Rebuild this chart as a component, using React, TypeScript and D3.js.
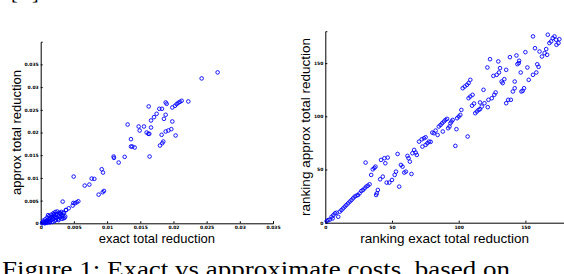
import React, { useEffect, useRef } from "react";
import * as d3 from "d3";

// left panel: exact vs approx total reduction (values x 0.001)
const exactTotal = [
  26.66, 24.25, 16.27, 22.24, 21.24, 20.98, 20.73, 20.48, 20.23, 19.83,
  18.83, 18.98, 17.87, 18.27, 17.47, 17.07, 16.62, 18.83, 18.57, 19.83,
  13.1, 14.76, 15.56, 14.91, 16.62, 15.96, 16.22, 16.36, 19.68, 19.23,
  18.83, 20.33, 18.22, 13.6, 18.47, 18.32, 17.97, 13.6, 13.8, 14.16,
  16.41, 10.99, 11.04, 12.65, 11.75, 9.19, 9.39, 4.97, 7.68, 8.08,
  7.33, 6.63, 9.54, 9.34, 8.73, 3.31, 5.67, 5.42, 5.17, 4.92,
  4.82, 4.22, 3.82, 3.41, 2.91, 3.41, 3.16,
  0.3, 0.5, 0.6, 0.8, 0.9, 1.0, 1.1, 1.2, 1.3, 1.4,
  1.5, 1.6, 1.7, 1.8, 1.9, 2.0, 2.1, 2.2, 2.3, 2.4,
  2.5, 2.6, 2.7, 2.8, 2.9, 3.0, 3.1, 3.2, 3.3, 3.5,
  3.6, 3.8, 0.4, 0.7, 1.0, 1.3, 1.6, 1.9, 2.2, 2.5,
  0.2, 0.6, 1.0, 1.4, 1.8, 2.3, 2.0, 1.1, 2.7, 3.7,
];
const approxTotal = [
  33.24, 31.91, 25.74, 26.84, 26.99, 26.76, 26.54, 26.25, 25.88, 25.51,
  26.62, 26.32, 25.22, 25.22, 24.12, 23.38, 22.65, 23.9, 23.01, 22.43,
  21.76, 21.32, 21.32, 20.44, 21.1, 20.0, 19.71, 19.71, 20.74, 20.44,
  20.22, 19.34, 19.49, 18.53, 18.01, 17.65, 17.13, 16.91, 16.91, 16.69,
  14.71, 14.71, 14.41, 14.63, 13.38, 11.91, 11.18, 10.29, 9.85, 9.78,
  8.53, 8.31, 7.13, 6.84, 6.32, 4.78, 4.85, 4.63, 4.41, 4.49,
  3.9, 3.31, 2.94, 2.35, 2.21, 1.1, 1.47,
  0.2, 0.3, 0.1, 0.5, 0.2, 0.7, 0.4, 0.9, 0.3, 1.1,
  0.6, 1.3, 0.8, 1.5, 1.0, 1.7, 0.5, 1.4, 1.9, 1.2,
  2.1, 0.9, 1.6, 2.3, 1.3, 2.0, 2.5, 1.0, 1.8, 2.2,
  1.2, 2.9, 0.6, 0.9, 1.3, 1.6, 1.9, 2.2, 2.5, 2.6,
  0.0, 0.0, 0.1, 0.2, 0.3, 0.8, 2.0, 1.8, 0.7, 1.5,
];

// right panel: rankings
const rankExact = [
  2.2, 4.7, 7.2, 8.4, 9.7, 10.9, 12.1, 13.4, 14.6, 15.8,
  17.1, 18.3, 19.6, 20.8, 22.0, 23.3, 24.5, 25.7, 27.0, 28.2,
  29.5, 30.7, 31.9, 33.2, 1.0, 3.5, 6.0, 5.5,
  30.2, 34.4, 35.6, 37.6, 36.8, 38.6, 38.1, 39.4, 41.1, 43.1,
  41.8, 44.3, 46.8, 45.0, 46.0, 48.0, 50.0, 52.0, 53.0, 54.2,
  55.4, 56.7, 57.9, 59.2, 60.4, 61.6, 62.4, 63.4, 64.6, 65.3,
  66.6, 67.8, 68.6, 70.3, 72.3, 74.0, 75.2, 72.8, 75.2, 76.5,
  77.7, 79.0, 80.2, 81.4, 82.7, 84.2, 85.1, 86.4, 87.6, 88.9,
  90.1, 91.3, 88.1, 92.1, 93.1, 93.8, 94.6, 95.5, 97.5, 98.3,
  98.8, 100.0, 101.2, 102.0, 106.7, 103.0, 104.5, 106.2, 108.7, 107.4,
  108.7, 110.4, 107.4, 112.4, 113.6, 114.9, 116.0, 117.3, 118.6, 116.0,
  119.3, 121.8, 123.5, 121.5, 122.3, 124.8, 126.7, 127.7, 126.0, 128.5,
  130.2, 129.7, 131.0, 132.2, 133.0, 134.2, 135.6, 138.4, 137.1, 139.1,
  135.6, 142.0, 140.6, 142.0, 143.3, 145.3, 146.5, 147.0, 149.0, 148.0,
  150.0, 151.5, 152.5, 155.7, 158.2, 158.9, 159.9, 155.7, 157.2, 160.6,
  162.4, 164.4, 165.6, 166.3, 166.8, 168.0, 169.3, 170.5, 171.8, 173.0,
  174.8, 175.5, 173.3, 110.0, 111.5, 145.0, 144.0,
];
const rankApprox = [
  2.5, 5.6, 8.8, 9.4, 5.6, 10.4, 11.9, 13.5, 15.1, 16.6,
  18.2, 19.8, 21.3, 22.9, 24.5, 25.4, 26.0, 27.6, 29.8, 30.7,
  32.3, 33.9, 34.8, 36.1, 1.5, 3.0, 7.0, 4.0,
  56.5, 44.9, 50.2, 52.7, 51.5, 27.6, 26.0, 30.8, 40.8, 43.3,
  59.0, 60.6, 61.2, 55.9, 37.7, 37.7, 40.2, 44.9, 48.0, 64.6,
  33.9, 54.3, 52.7, 47.1, 48.0, 62.8, 60.6, 57.4, 45.8, 65.3,
  68.4, 65.9, 63.7, 76.2, 78.4, 79.4, 80.3, 71.5, 73.1, 74.7,
  76.2, 76.0, 84.7, 84.1, 86.6, 82.5, 90.4, 91.9, 93.5, 95.1,
  96.6, 97.6, 85.7, 88.8, 90.4, 93.5, 95.1, 96.6, 72.2, 87.9,
  98.2, 99.8, 101.3, 106.0, 81.0, 126.4, 128.0, 129.6, 134.3, 131.2,
  118.6, 120.2, 117.0, 102.9, 104.5, 106.0, 106.7, 109.2, 124.9, 113.0,
  112.3, 108.6, 153.7, 145.9, 115.5, 117.0, 120.2, 122.4, 138.0, 139.0,
  141.2, 151.6, 145.3, 132.7, 131.2, 134.9, 143.7, 155.6, 115.5, 115.5,
  112.3, 132.7, 123.3, 126.4, 157.2, 152.2, 141.2, 123.3, 126.4, 124.0,
  160.3, 145.9, 134.3, 139.0, 141.2, 148.9, 146.5, 175.1, 164.0, 160.9,
  156.2, 159.4, 163.2, 157.8, 176.7, 168.8, 170.4, 173.5, 175.1, 172.0,
  168.8, 172.5, 167.2, 110.0, 112.0, 150.0, 149.0,
];

const leftTicks = [0, 0.005, 0.01, 0.015, 0.02, 0.025, 0.03, 0.035];
const rightTicks = [0, 50, 100, 150];

const caption = "Figure 1: Exact vs approximate costs, based on";

export default function App() {
  const ref = useRef<SVGSVGElement>(null);

  useEffect(() => {
    const svg = d3.select(ref.current);
    svg.selectAll("*").remove();

    const drawPanel = (opts: {
      xs: number[];
      ys: number[];
      x: d3.ScaleLinear<number, number>;
      y: d3.ScaleLinear<number, number>;
      ticks: number[];
      fmt: (d: number) => string;
      xLabel: string;
      yLabel: string;
      yLabelX: number;
      labelSize: number;
    }) => {
      const { xs, ys, x, y, ticks, fmt } = opts;
      const g = svg.append("g");
      const x0 = x.range()[0];
      const y0 = y.range()[0];

      // axes (matlab-ish: inward ticks, only left and bottom lines)
      const xa = g.append("g")
        .attr("transform", `translate(0,${y0})`)
        .call(d3.axisBottom(x).tickValues(ticks).tickFormat(fmt as any).tickSize(-2).tickPadding(3));
      const ya = g.append("g")
        .attr("transform", `translate(${x0},0)`)
        .call(d3.axisLeft(y).tickValues(ticks).tickFormat(fmt as any).tickSize(-2).tickPadding(2));
      [xa, ya].forEach(a => {
        a.select(".domain").attr("stroke", "#000").attr("stroke-width", 1);
        a.selectAll(".tick line").attr("stroke", "#000");
        a.selectAll("text")
          .attr("font-family", "DejaVu Sans, sans-serif")
          .attr("font-weight", "bold")
          .attr("font-size", 4.5)
          .attr("fill", "#000");
      });

      // points
      g.append("g")
        .selectAll("circle")
        .data(xs.map((v, i) => [v, ys[i]]))
        .enter()
        .append("circle")
        .attr("cx", d => x(d[0]))
        .attr("cy", d => y(d[1]))
        .attr("r", 1.8)
        .attr("fill", "none")
        .attr("stroke", "#0000ff")
        .attr("stroke-width", 0.9);

      // labels
      const xr = x.range();
      g.append("text")
        .attr("x", (xr[0] + Math.min(xr[1], 564)) / 2)
        .attr("y", 243)
        .attr("text-anchor", "middle")
        .attr("font-family", "Liberation Sans, Arial, sans-serif")
        .attr("font-size", opts.labelSize)
        .text(opts.xLabel);
      const yr = y.range();
      g.append("text")
        .attr("transform", `translate(${opts.yLabelX},${(yr[0] + yr[1]) / 2}) rotate(-90)`)
        .attr("text-anchor", "middle")
        .attr("font-family", "Liberation Sans, Arial, sans-serif")
        .attr("font-size", opts.labelSize)
        .text(opts.yLabel);
    };

    // left panel
    drawPanel({
      xs: exactTotal.map(v => v / 1000),
      ys: approxTotal.map(v => v / 1000),
      x: d3.scaleLinear().domain([0, 0.035]).range([40.7, 273]),
      y: d3.scaleLinear().domain([0, 0.04]).range([223.3, 41.7]),
      ticks: leftTicks,
      fmt: d => (d === 0 ? "0" : String(+d.toFixed(3))),
      xLabel: "exact total reduction",
      yLabel: "approx total reduction",
      yLabelX: 21,
      labelSize: 13,
    });

    // right panel
    drawPanel({
      xs: rankExact,
      ys: rankApprox,
      x: d3.scaleLinear().domain([0, 180]).range([325.3, 565.4]),
      y: d3.scaleLinear().domain([0, 180]).range([222.7, 31.2]),
      ticks: rightTicks,
      fmt: d => String(d),
      xLabel: "ranking exact total reduction",
      yLabel: "ranking approx total reduction",
      yLabelX: 310,
      labelSize: 13.5,
    });

    // bits of a reference bracket from the text above, cut at the top edge
    [["[", 11], ["]", 32]].forEach(([t, x]) => {
      svg.append("text")
        .attr("x", x as number)
        .attr("y", -1)
        .attr("font-family", "Liberation Serif, serif")
        .attr("font-size", 20)
        .text(t as string);
    });

    svg.append("text")
      .attr("x", 2)
      .attr("y", 276.5)
      .attr("font-family", "Liberation Serif, Times New Roman, serif")
      .attr("font-size", 24)
      .attr("textLength", 508)
      .attr("lengthAdjust", "spacingAndGlyphs")
      .text(caption);
  }, []);

  return (
    <svg
      ref={ref}
      width={564}
      height={274}
      style={{ position: "absolute", left: 0, top: 0, background: "#fff" }}
    />
  );
}
